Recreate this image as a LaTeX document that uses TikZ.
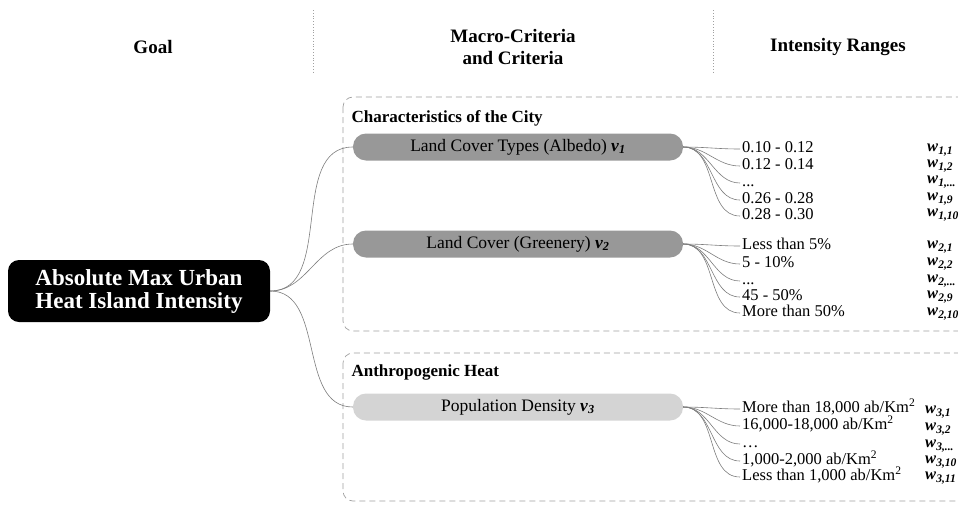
\documentclass[tikz,border=0pt]{standalone}
\usepackage{fontspec}
\setmainfont{Liberation Serif}
\usetikzlibrary{positioning}

\definecolor{critdark}{RGB}{152,152,152}
\definecolor{critlight}{RGB}{212,212,212}
\definecolor{linkgray}{RGB}{125,125,125}
\definecolor{framegray}{RGB}{160,160,160}

\newcommand{\bivar}[2]{\textbf{\textit{#1}}\textsubscript{\textbf{\textit{#2}}}}

\tikzset{
  goalbox/.style={fill=black, text=white, rounded corners=11pt, minimum width=262pt, minimum height=62pt, align=center, font=\fontsize{23}{23}\selectfont\bfseries},
  critbox/.style={rounded corners=13pt, minimum width=330pt, minimum height=27pt, font=\fontsize{17.5}{19}\selectfont},
  rangeitem/.style={anchor=west, inner sep=2pt, font=\fontsize{16.5}{18}\selectfont, text height=11pt, text depth=3.5pt},
  weightitem/.style={anchor=west, inner sep=0pt, font=\fontsize{16.5}{18}\selectfont},
  link/.style={draw=linkgray, line width=0.6pt},
  groupframe/.style={draw=framegray, dash pattern=on 6pt off 4pt, rounded corners=10pt, line width=0.7pt},
  header/.style={font=\fontsize{19}{22}\selectfont\bfseries, align=center},
  grouptitle/.style={anchor=west, font=\fontsize{17}{19}\selectfont\bfseries},
}

\begin{document}
\begin{tikzpicture}[x=1pt,y=-1pt]
\clip (0,0) rectangle (958,504);
%\draw[draw=black] (0,0) rectangle (958,504);

% headers
\node[header] (hgoal) at (153,47) {Goal};
\node[header] (hcrit) at (513,47) {Macro-Criteria\\and Criteria};
\node[header] (hrange) at (838,47) {Intensity Ranges};
\draw[framegray, dotted, line width=0.8pt] (313,10) -- (313,72);
\draw[framegray, dotted, line width=0.8pt] (713,10) -- (713,72);

% groups
\draw[groupframe] (343,97) rectangle (980,331);
\draw[groupframe] (343,353) rectangle (980,501);
\node[grouptitle] (tcity) at (348,118) {Characteristics of the City};
\node[grouptitle] (tanthro) at (348,372) {Anthropogenic Heat};

% goal and criteria
\node[goalbox] (goal) at (139,291) {Absolute Max Urban\\Heat Island Intensity};
\node[critbox, fill=critdark] (v1) at (518,147) {Land Cover Types (Albedo) \bivar{v}{1}};
\node[critbox, fill=critdark] (v2) at (518,244) {Land Cover (Greenery) \bivar{v}{2}};
\node[critbox, fill=critlight] (v3) at (518,407) {Population Density \bivar{v}{3}};

% ranges of v1
\node[rangeitem] (r11) at (740,149) {0.10 - 0.12};
\node[rangeitem] (r12) at (740,166) {0.12 - 0.14};
\node[rangeitem] (r13) at (740,183) {...};
\node[rangeitem] (r14) at (740,200) {0.26 - 0.28};
\node[rangeitem] (r15) at (740,216) {0.28 - 0.30};
% ranges of v2
\node[rangeitem] (r21) at (740,246) {Less than 5\%};
\node[rangeitem] (r22) at (740,264) {5 - 10\%};
\node[rangeitem] (r23) at (740,281) {...};
\node[rangeitem] (r24) at (740,297) {45 - 50\%};
\node[rangeitem] (r25) at (740,313) {More than 50\%};
% ranges of v3
\node[rangeitem] (r31) at (740,409) {More than 18,000 ab/Km\textsuperscript{2}};
\node[rangeitem] (r32) at (740,426) {16,000-18,000 ab/Km\textsuperscript{2}};
\node[rangeitem] (r33) at (740,444) {\ldots};
\node[rangeitem] (r34) at (740,461) {1,000-2,000 ab/Km\textsuperscript{2}};
\node[rangeitem] (r35) at (740,477) {Less than 1,000 ab/Km\textsuperscript{2}};

% weights
\node[weightitem] (w11) at (927,150) {\bivar{w}{1,1}};
\node[weightitem] (w12) at (927,166) {\bivar{w}{1,2}};
\node[weightitem] (w13) at (927,182) {\bivar{w}{1,...}};
\node[weightitem] (w14) at (927,199) {\bivar{w}{1,9}};
\node[weightitem] (w15) at (927,215) {\bivar{w}{1,10}};
\node[weightitem] (w21) at (927,247) {\bivar{w}{2,1}};
\node[weightitem] (w22) at (927,264) {\bivar{w}{2,2}};
\node[weightitem] (w23) at (927,281) {\bivar{w}{2,...}};
\node[weightitem] (w24) at (927,297) {\bivar{w}{2,9}};
\node[weightitem] (w25) at (927,314) {\bivar{w}{2,10}};
\node[weightitem] (w31) at (925,412) {\bivar{w}{3,1}};
\node[weightitem] (w32) at (925,429) {\bivar{w}{3,2}};
\node[weightitem] (w33) at (925,446) {\bivar{w}{3,...}};
\node[weightitem] (w34) at (925,462) {\bivar{w}{3,10}};
\node[weightitem] (w35) at (925,478) {\bivar{w}{3,11}};

% links
\foreach \c in {v1,v2,v3}
  \draw[link] (goal.east) to[out=0,in=180] (\c.west);
\foreach \g in {1,2,3}
  \foreach \k in {1,...,5}
    \draw[link] (v\g.east) to[out=0,in=180] (r\g\k.west);
\end{tikzpicture}
\end{document}
